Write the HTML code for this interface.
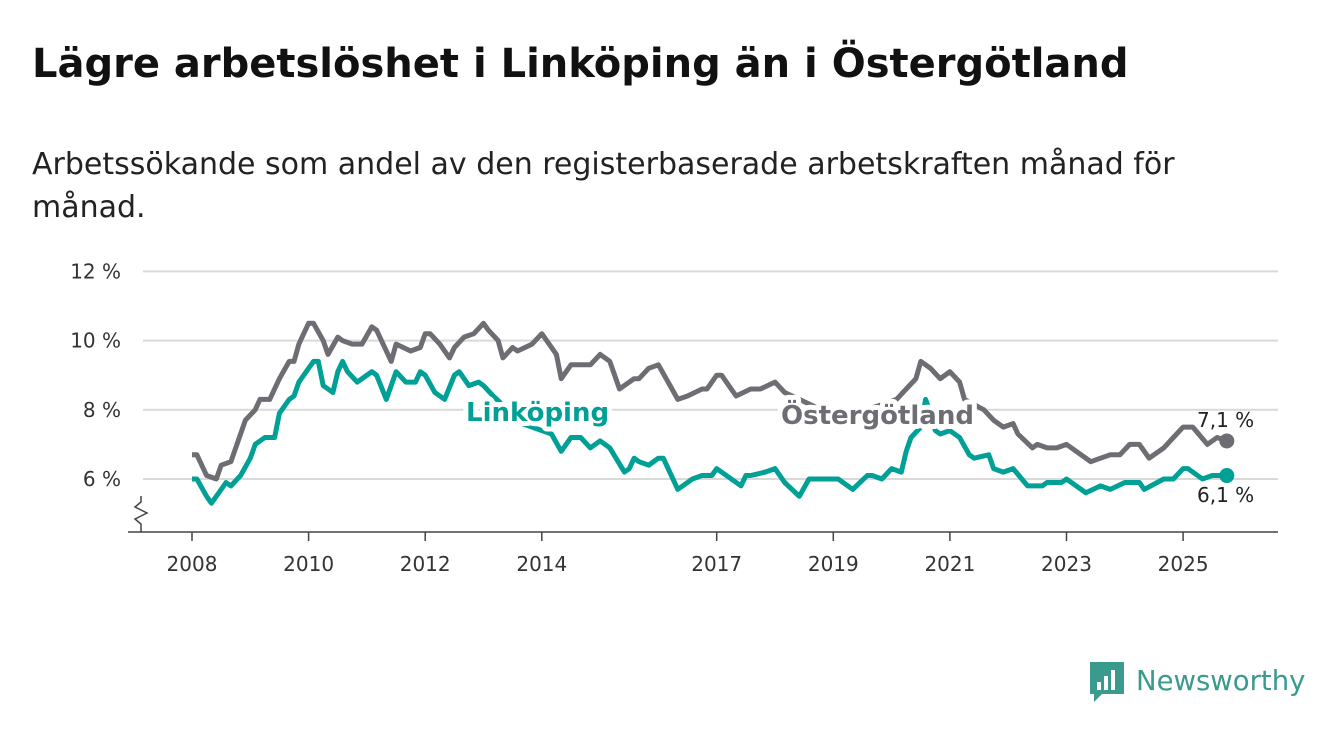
<!DOCTYPE html>
<html><head><meta charset="utf-8"><style>
body{margin:0;background:#fff;width:1340px;height:734px;overflow:hidden;font-family:"DejaVu Sans","Liberation Sans",sans-serif}
#title{position:absolute;left:32px;top:41px;font-size:40px;font-weight:bold;color:#111;margin:0}
#sub{position:absolute;left:32px;top:143px;font-size:30px;color:#222;line-height:43px;width:1220px}
</style></head><body>
<h1 id="title">Lägre arbetslöshet i Linköping än i Östergötland</h1>
<div id="sub">Arbetssökande som andel av den registerbaserade arbetskraften månad för månad.</div>
<svg id="chart" width="1340" height="734" style="position:absolute;left:0;top:0"></svg>
<script>
const yTicks=[6,8,10,12];
const yTickLabels=["6 %","8 %","10 %","12 %"];
const xTicks=[2008,2010,2012,2014,2017,2019,2021,2023,2025];
const ostMonths=[0,1,3,5,6,8,9,11,13,14,16,18,20,21,22,23,24,25,27,28,30,31,33,35,37,38,41,42,45,47,48,49,51,53,54,56,58,60,61,63,64,66,67,70,72,73,75,76,78,82,84,86,88,91,92,94,96,98,100,102,105,106,108,109,112,115,117,120,122,125,128,132,136,141,145,147,149,150,152,154,156,158,159,163,165,167,169,170,173,174,176,178,180,181,183,185,187,189,191,193,195,197,200,202,204,206,209,211,213];
const ostValues=[6.7,6.7,6.1,6.0,6.4,6.5,6.9,7.7,8.0,8.3,8.3,8.9,9.4,9.4,9.9,10.2,10.5,10.5,10.0,9.6,10.1,10.0,9.9,9.9,10.4,10.3,9.4,9.9,9.7,9.8,10.2,10.2,9.9,9.5,9.8,10.1,10.2,10.5,10.3,10.0,9.5,9.8,9.7,9.9,10.2,10.0,9.6,8.9,9.3,9.3,9.6,9.4,8.6,8.9,8.9,9.2,9.3,8.8,8.3,8.4,8.6,8.6,9.0,9.0,8.4,8.6,8.6,8.8,8.5,8.3,8.1,7.8,7.9,8.1,8.3,8.6,8.9,9.4,9.2,8.9,9.1,8.8,8.3,8.0,7.7,7.5,7.6,7.3,6.9,7.0,6.9,6.9,7.0,6.9,6.7,6.5,6.6,6.7,6.7,7.0,7.0,6.6,6.9,7.2,7.5,7.5,7.0,7.2,7.1];
const linMonths=[0,1,3,4,6,7,8,10,12,13,15,17,18,20,21,22,24,25,26,27,29,30,31,32,34,35,37,38,40,42,44,46,47,48,50,52,54,55,57,59,60,62,65,68,74,76,78,80,82,84,86,89,90,91,92,94,96,97,100,102,103,105,107,108,110,113,114,115,118,120,122,125,127,131,133,136,139,140,142,144,146,147,148,150,151,152,153,154,156,158,160,161,164,165,167,169,172,175,176,179,180,184,187,189,192,195,196,200,202,204,205,208,210,213];
const linValues=[6.0,6.0,5.5,5.3,5.7,5.9,5.8,6.1,6.6,7.0,7.2,7.2,7.9,8.3,8.4,8.8,9.2,9.4,9.4,8.7,8.5,9.1,9.4,9.1,8.8,8.9,9.1,9.0,8.3,9.1,8.8,8.8,9.1,9.0,8.5,8.3,9.0,9.1,8.7,8.8,8.7,8.4,8.0,7.6,7.3,6.8,7.2,7.2,6.9,7.1,6.9,6.2,6.3,6.6,6.5,6.4,6.6,6.6,5.7,5.9,6.0,6.1,6.1,6.3,6.1,5.8,6.1,6.1,6.2,6.3,5.9,5.5,6.0,6.0,6.0,5.7,6.1,6.1,6.0,6.3,6.2,6.8,7.2,7.5,8.3,7.9,7.4,7.3,7.4,7.2,6.7,6.6,6.7,6.3,6.2,6.3,5.8,5.8,5.9,5.9,6.0,5.6,5.8,5.7,5.9,5.9,5.7,6.0,6.0,6.3,6.3,6.0,6.1,6.1];
const endLabels=["7,1 %","6,1 %"];

const NS="http://www.w3.org/2000/svg";
const svg=document.getElementById('chart');
const xS=m=>192+m*(58.3/12);
const xY=y=>xS((y-2008)*12);
const yS=v=>479-(v-6)*34.6;
function mk(tag,attrs,parent){const e=document.createElementNS(NS,tag);for(const k in attrs)e.setAttribute(k,attrs[k]);(parent||svg).appendChild(e);return e;}
yTicks.forEach((t,i)=>{
  const g=mk('line',{x1:143,x2:1278,y1:yS(t),y2:yS(t),stroke:'#d9d9d9','stroke-width':2});
  
  
  const l=mk('text',{x:121,y:yS(t)+7,'text-anchor':'end','font-size':20,fill:'#333'});
  l.textContent=yTickLabels[i];
  
  
});
const ax=mk('line',{x1:128,x2:1278,y1:532,y2:532,stroke:'#444','stroke-width':1.5});


const brk=mk('path',{d:'M141,496 L141,502 L135,507 L147,513 L135,519 L141,524 L141,532',fill:'none',stroke:'#444','stroke-width':1.5});


xTicks.forEach(t=>{
  const k=mk('line',{x1:xY(t),x2:xY(t),y1:532,y2:541,stroke:'#444','stroke-width':1.5});
  
  
  const l=mk('text',{x:xY(t),y:571,'text-anchor':'middle','font-size':20,fill:'#333'});
  l.textContent=t;
  
  
});
function line(ms,vs,col,name){
  const p=mk('path',{d:ms.map((m,i)=>(i?'L':'M')+xS(m).toFixed(1)+','+yS(vs[i]).toFixed(1)).join(''),fill:'none',stroke:col,'stroke-width':5,'stroke-linejoin':'round'});
  
  
  const c=mk('circle',{cx:xS(ms[ms.length-1]),cy:yS(vs[vs.length-1]),r:7.5,fill:col});
  
  
}
line(ostMonths,ostValues,'#6e6d73','ostergotland-line');
line(linMonths,linValues,'#00a096','linkoping-line');
function lab(x,y,txt,col,name){
  const t=mk('text',{x:x,y:y,'font-size':26,'font-weight':'bold',fill:col,stroke:'#fff','stroke-width':10,'paint-order':'stroke','stroke-linejoin':'round'});
  t.textContent=txt;
  
  
}
lab(466,421,'Linköping','#00a096','linkoping-label');
lab(781,424,'Östergötland','#6e6d73','ostergotland-label');
const e1=mk('text',{x:1197,y:427,'font-size':20,fill:'#222'});e1.textContent=endLabels[0];


const e2=mk('text',{x:1197,y:502,'font-size':20,fill:'#222'});e2.textContent=endLabels[1];


const lg=mk('g',{});


mk('path',{d:'M1090,662 h34 v32 h-22 l-8,8 v-8 h-4 z',fill:'#3a9a8e'},lg);
mk('rect',{x:1097,y:682,width:4,height:8,fill:'#fff'},lg);
mk('rect',{x:1104,y:676,width:4,height:14,fill:'#fff'},lg);
mk('rect',{x:1111,y:670,width:4,height:20,fill:'#fff'},lg);
const lt=mk('text',{x:1136,y:690,'font-size':27.5,fill:'#3a9a8e'},lg);lt.textContent='Newsworthy';
</script>
</body></html>
